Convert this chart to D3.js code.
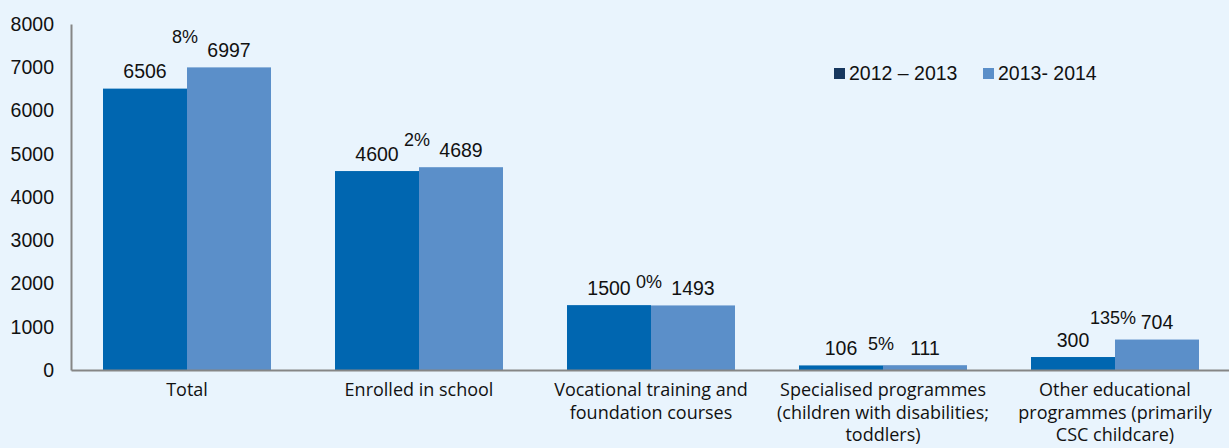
<!DOCTYPE html>
<html>
<head>
<meta charset="utf-8">
<script src="https://cdn.jsdelivr.net/npm/d3@7"></script>
<style>
html,body{margin:0;padding:0;background:#e9f4fd;}
svg{display:block;}
</style>
</head>
<body>
<svg id="chart" width="1229" height="448"></svg>
<script>
const categories = [
  ["Total"],
  ["Enrolled in school"],
  ["Vocational training and", "foundation courses"],
  ["Specialised programmes", "(children with disabilities;", "toddlers)"],
  ["Other educational", "programmes (primarily", "CSC childcare)"]
];
const seriesNames = ["2012 \u2013 2013", "2013- 2014"];
const values2012 = [6506, 4600, 1500, 106, 300];
const values2013 = [6997, 4689, 1493, 111, 704];
const pctLabels = ["8%", "2%", "0%", "5%", "135%"];
const yTicks = [0, 1000, 2000, 3000, 4000, 5000, 6000, 7000, 8000];

const barColors = ["#0066b0", "#5b8fc9"];
const legendColors = ["#17375e", "#5b8fc9"];
const numFont = "'Liberation Sans', Arial, sans-serif";
const catFont = "'Open Sans', 'Noto Sans', sans-serif";

const svg = d3.select("#chart");
const plotL = 71, plotR = 1231, plotT = 24, plotB = 370;

const x0 = d3.scaleBand().domain(d3.range(categories.length)).range([plotL, plotR]).padding(0);
const barW = 84;
const x1 = d3.scaleBand().domain([0, 1]).range([-barW, barW]).padding(0);
const y = d3.scaleLinear().domain([0, 8000]).range([plotB, plotT]);

// bars
const series = [values2012, values2013];
series.forEach((vals, si) => {
  svg.append("g").selectAll("rect").data(vals).enter().append("rect")
    .attr("x", (d, i) => x0(i) + x0.bandwidth() / 2 + x1(si))
    .attr("y", d => y(d))
    .attr("width", x1.bandwidth())
    .attr("height", d => y(0) - y(d))
    .attr("fill", barColors[si]);
  svg.append("g").selectAll("text").data(vals).enter().append("text")
    .attr("x", (d, i) => x0(i) + x0.bandwidth() / 2 + x1(si) + x1.bandwidth() / 2)
    .attr("y", d => y(d) - 10.5)
    .attr("text-anchor", "middle")
    .attr("font-family", numFont)
    .attr("font-size", "19.5px")
    .attr("fill", "#111")
    .text(d => d);
});

// percentage labels
svg.append("g").selectAll("text").data(pctLabels).enter().append("text")
  .attr("x", (d, i) => x0(i) + x0.bandwidth() / 2 - 2)
  .attr("y", (d, i) => y(Math.max(values2012[i], values2013[i]) * 1.03) - 15)
  .attr("text-anchor", "middle")
  .attr("font-family", numFont)
  .attr("font-size", "18px")
  .attr("fill", "#111")
  .text(d => d);

// y axis
const yAxis = d3.axisLeft(y).tickValues(yTicks).tickSize(0).tickPadding(17).tickFormat(d3.format("d"));
const gy = svg.append("g").attr("transform", `translate(${plotL},0)`).call(yAxis);
gy.select(".domain").attr("stroke", "#868686").attr("stroke-width", 2);
gy.selectAll("text").attr("font-family", numFont).attr("font-size", "19.5px").attr("fill", "#111");

// x axis
const xAxis = d3.axisBottom(x0).tickSize(0).tickFormat("");
const gx = svg.append("g").attr("transform", `translate(0,${plotB})`).call(xAxis);
gx.select(".domain").attr("stroke", "#868686").attr("stroke-width", 2);

// category labels
const catG = svg.append("g");
categories.forEach((lines, i) => {
  const cx = x0(i) + x0.bandwidth() / 2;
  const t = catG.append("text")
    .attr("x", cx)
    .attr("y", 396)
    .attr("text-anchor", "middle")
    .attr("font-family", catFont)
    .attr("font-size", "18px")
    .attr("fill", "#111");
  lines.forEach((ln, li) => {
    t.append("tspan").attr("x", cx).attr("dy", li === 0 ? 0 : 22.5).text(ln);
  });
});

// legend
const legendX = [834, 983];
seriesNames.forEach((name, i) => {
  svg.append("rect").attr("x", legendX[i]).attr("y", 68).attr("width", 11).attr("height", 11).attr("fill", legendColors[i]);
  svg.append("text").attr("x", legendX[i] + 15).attr("y", 80)
    .attr("font-family", numFont).attr("font-size", "19.5px").attr("fill", "#111").text(name);
});
</script>
</body>
</html>
